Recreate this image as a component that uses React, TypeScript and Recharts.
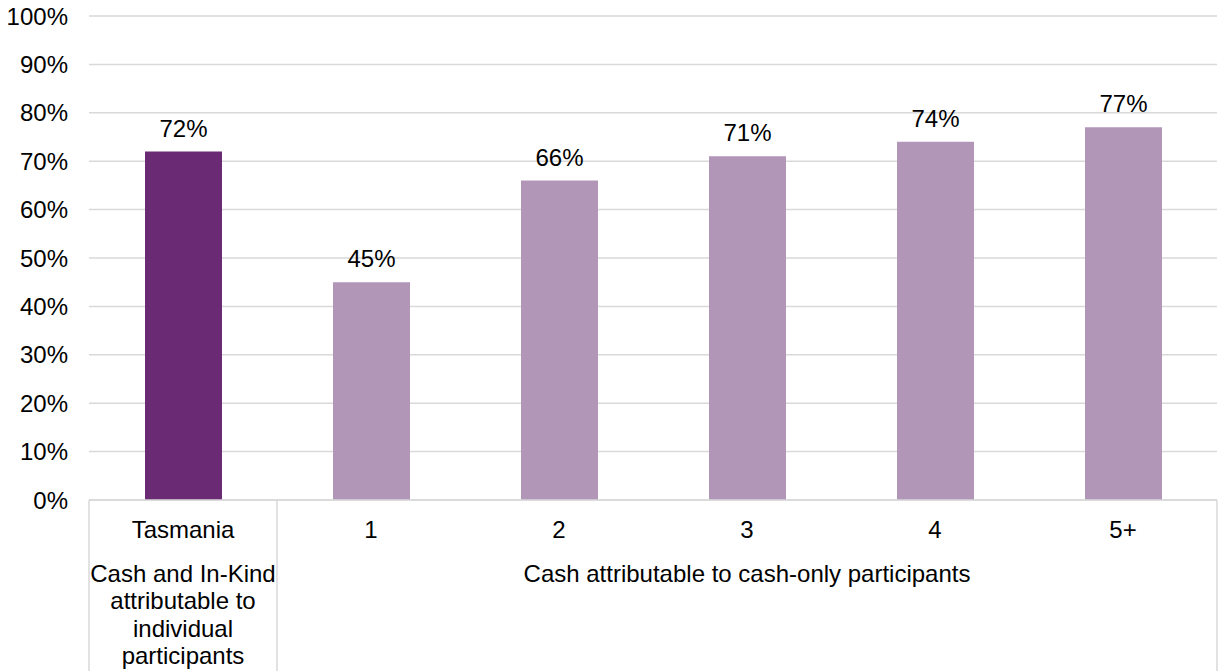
import { BarChart, Bar, XAxis, YAxis, CartesianGrid, Cell, LabelList } from 'recharts';

const categories = ['Tasmania', '1', '2', '3', '4', '5+'];
const values = [72, 45, 66, 71, 74, 77];
const yTicks = [0, 10, 20, 30, 40, 50, 60, 70, 80, 90, 100];

// second axis row: which categories each group spans, and its label lines
const groupStarts = [0, 1];
const groupEnds = [0, 5];
const groupLabels = [
  ['Cash and In-Kind', 'attributable to', 'individual', 'participants'],
  ['Cash attributable to cash-only participants'],
];

const DARK = '#6B2A74';
const LIGHT = '#B196B8';
const GRID = '#D9D9D9';
const FONT = '"Liberation Sans", Arial, sans-serif';
const FS = 24;

const chartData = categories.map((c, i) => ({ name: c, value: values[i] }));

const AxisTick = (props: any) => {
  const { x, y, payload, index, width } = props;
  const band = (width || 1128) / categories.length;
  const parts: any[] = [];
  parts.push(
    <text key="cat" x={x} y={y + 38} textAnchor="middle" fontSize={FS} fontFamily={FONT} fill="#000">
      {payload.value}
    </text>
  );
  groupStarts.forEach((start, g) => {
    const end = groupEnds[g];
    if (index === start) {
      const left = x - band / 2;
      const cx = left + ((end - start + 1) * band) / 2;
      parts.push(<line key={`l${g}`} x1={left} x2={left} y1={y} y2={y + 171} stroke={GRID} strokeWidth={1.5} />);
      groupLabels[g].forEach((line, k) => (
        parts.push(
          <text key={`g${g}-${k}`} x={cx} y={y + 82 + k * 27.3} textAnchor="middle" fontSize={FS} fontFamily={FONT} fill="#000">
            {line}
          </text>
        )
      ));
    }
    if (index === end && g === groupStarts.length - 1) {
      const right = x + band / 2;
      parts.push(<line key={`r${g}`} x1={right} x2={right} y1={y} y2={y + 171} stroke={GRID} strokeWidth={1.5} />);
    }
  });
  return <g>{parts}</g>;
};

export default function App() {
  return (
    <div style={{ position: 'absolute', left: 0, top: 0, background: '#fff' }}>
      <BarChart
        width={1218}
        height={671}
        data={chartData}
        margin={{ top: 16, right: 1, left: 0, bottom: 0 }}
      >
        <CartesianGrid vertical={false} stroke={GRID} strokeWidth={1.5} />
        <XAxis
          dataKey="name"
          height={171}
          interval={0}
          tickLine={false}
          tickSize={0}
          tickMargin={0}
          axisLine={{ stroke: GRID, strokeWidth: 1.5 }}
          tick={<AxisTick />}
        />
        <YAxis
          width={89}
          domain={[0, 100]}
          ticks={yTicks}
          interval={0}
          axisLine={false}
          tickLine={false}
          tickSize={0}
          tickMargin={21}
          tickFormatter={(v) => `${v}%`}
          tick={{ fontSize: FS, fill: '#000', fontFamily: FONT }}
        />
        <Bar dataKey="value" barSize={77} isAnimationActive={false}>
          {chartData.map((_, i) => (
            <Cell key={i} fill={i === 0 ? DARK : LIGHT} />
          ))}
          <LabelList
            dataKey="value"
            position="top"
            offset={15}
            formatter={(v: any) => `${v}%`}
            style={{ fontSize: FS, fill: '#000', fontFamily: FONT }}
          />
        </Bar>
      </BarChart>
    </div>
  );
}
